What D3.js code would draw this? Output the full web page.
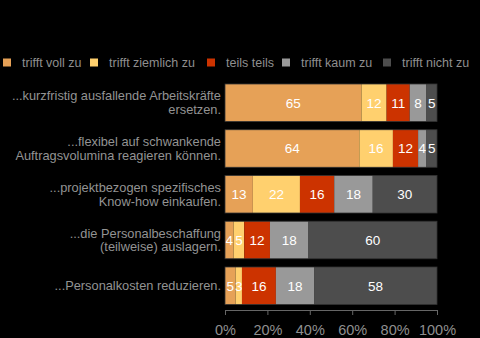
<!DOCTYPE html>
<html><head><meta charset="utf-8">
<script src="https://cdn.jsdelivr.net/npm/d3@7"></script>
<style>body{margin:0;background:#000;}svg{display:block;}</style>
</head><body>
<svg id="c" width="480" height="338"></svg>
<script>
const categories = [
  ["...kurzfristig ausfallende Arbeitskräfte", "ersetzen."],
  ["...flexibel auf schwankende", "Auftragsvolumina reagieren können."],
  ["...projektbezogen spezifisches", "Know-how einkaufen."],
  ["...die Personalbeschaffung", "(teilweise) auslagern."],
  ["...Personalkosten reduzieren."]
];
const seriesNames = ["trifft voll zu", "trifft ziemlich zu", "teils teils", "trifft kaum zu", "trifft nicht zu"];
const colors = ["#E6A157", "#FFD06E", "#CC3300", "#999999", "#4D4D4D"];
const trifftVoll    = [65, 64, 13, 4, 5];
const trifftZiemlich= [12, 16, 22, 5, 3];
const teilsTeils    = [11, 12, 16, 12, 16];
const trifftKaum    = [8, 4, 18, 18, 18];
const trifftNicht   = [5, 5, 30, 60, 58];
const tickValues = [0, 0.2, 0.4, 0.6, 0.8, 1.0];

const seriesVals = [trifftVoll, trifftZiemlich, teilsTeils, trifftKaum, trifftNicht];
const rows = categories.map((c, i) => {
  const o = {idx: i};
  seriesNames.forEach((s, j) => o[s] = seriesVals[j][i]);
  return o;
});
const stack = d3.stack().keys(seriesNames).offset(d3.stackOffsetExpand)(rows);

const svg = d3.select("#c");
const x = d3.scaleLinear().domain([0, 1]).range([225, 437]);
const y = d3.scaleBand().domain(d3.range(categories.length)).range([78.5, 310]).paddingInner(0.18).paddingOuter(0.12);

const font = "Liberation Sans, Arial, sans-serif";

// bars
stack.forEach((s, j) => {
  const g = svg.append("g");
  g.selectAll("rect").data(s).join("rect")
    .attr("x", d => x(d[0]))
    .attr("y", d => y(d.data.idx))
    .attr("width", d => x(d[1]) - x(d[0]))
    .attr("height", y.bandwidth())
    .attr("fill", colors[j]);
  g.selectAll("text").data(s).join("text")
    .attr("x", d => (x(d[0]) + x(d[1])) / 2)
    .attr("y", d => y(d.data.idx) + y.bandwidth() / 2 + 5)
    .attr("text-anchor", "middle")
    .attr("fill", "#fff")
    .attr("font-family", font)
    .attr("font-size", 13.5)
    .text(d => d.data[seriesNames[j]]);
});
// bar outlines
svg.append("g").selectAll("rect").data(categories).join("rect")
  .attr("x", x(0)).attr("y", (d, i) => y(i))
  .attr("width", x(1) - x(0)).attr("height", y.bandwidth())
  .attr("fill", "none").attr("stroke", "#333").attr("stroke-width", 0.8);

// category labels
const lab = svg.append("g");
categories.forEach((lines, i) => {
  const cy = y(i) + y.bandwidth() / 2;
  const n = lines.length;
  lines.forEach((t, k) => {
    lab.append("text")
      .attr("x", 221)
      .attr("y", cy + (k - (n - 1) / 2) * 13.5 + 4.5)
      .attr("text-anchor", "end")
      .attr("fill", "#939393")
      .attr("font-family", font)
      .attr("font-size", 12.8)
      .text(t);
  });
});

// x axis
const ax = svg.append("g").attr("transform", "translate(0,310)")
  .call(d3.axisBottom(x).tickValues(tickValues).tickFormat(d3.format(".0%")).tickSize(5).tickSizeOuter(0));
ax.select(".domain").attr("stroke", "#666");
ax.selectAll(".tick line").attr("stroke", "#666");
ax.selectAll(".tick text").attr("fill", "#8f8f8f").attr("font-family", font).attr("font-size", 14.5)
  .attr("y", 14.5).attr("dy", "0.71em");

// legend
const legX = [3, 90, 207, 282, 383];
const leg = svg.append("g");
seriesNames.forEach((s, j) => {
  leg.append("rect").attr("x", legX[j]).attr("y", 58.5).attr("width", 8).attr("height", 8).attr("fill", colors[j]);
  leg.append("text").attr("x", legX[j] + 19).attr("y", 67)
    .attr("fill", "#8f8f8f").attr("font-family", font).attr("font-size", 12.5).text(s);
});
</script>
</body></html>
